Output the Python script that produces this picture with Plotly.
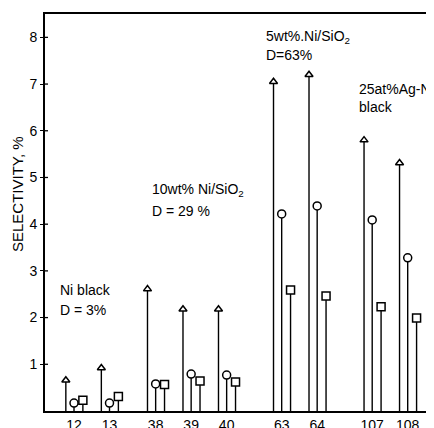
import plotly.graph_objects as go

# ---- data ----
group_labels = ["12", "13", "38", "39", "40", "63", "64", "107", "108"]
group_x = [0, 1, 2.3, 3.3, 4.3, 5.85, 6.85, 8.4, 9.4]
triangle_vals = [0.66, 0.92, 2.61, 2.18, 2.18, 7.05, 7.2, 5.8, 5.31]
circle_vals = [0.17, 0.17, 0.58, 0.79, 0.77, 4.22, 4.39, 4.09, 3.28]
square_vals = [0.23, 0.31, 0.57, 0.64, 0.62, 2.59, 2.46, 2.23, 1.99]
y_ticks = [1, 2, 3, 4, 5, 6, 7, 8]

FONT = "Liberation Sans, Arial, sans-serif"
INK = "black"

# the page body has an 8px default margin, so the figure starts at (8, 8)
OFF = 8
W, H = 434 - OFF, 428 - OFF
L, R, T, B = 45 - OFF, 0, 14 - OFF, 17
PW, PH = W - L - R, H - T - B

series = [
    (triangle_vals, -0.23, "triangle-up", 7),
    (circle_vals, 0.0, "circle", 8),
    (square_vals, 0.25, "square", 8),
]

fig = go.Figure()
for vals, off, sym, size in series:
    xs, ys = [], []
    for gx, v in zip(group_x, vals):
        xs += [gx + off, gx + off, None]
        ys += [0, v, None]
    fig.add_trace(go.Scatter(x=xs, y=ys, mode="lines",
                             line=dict(color=INK, width=1.4),
                             hoverinfo="skip", showlegend=False))
    fig.add_trace(go.Scatter(x=[gx + off for gx in group_x], y=vals, mode="markers",
                             marker=dict(symbol=sym, size=size, color="white",
                                         line=dict(color=INK, width=1.5)),
                             showlegend=False))

xmin = -29 / 35.5
xmax = xmin + PW / 35.5
fig.update_layout(
    width=W, height=H,
    margin=dict(l=L, r=R, t=T, b=B, pad=0, autoexpand=False),
    paper_bgcolor="white", plot_bgcolor="white",
    font=dict(family=FONT, color=INK, size=14),
    xaxis=dict(range=[xmin, xmax], tickmode="array", tickvals=group_x,
               ticktext=group_labels, showline=True, mirror=True,
               linecolor=INK, linewidth=2, ticks="",
               showgrid=False, automargin=False,
               zeroline=False, tickfont=dict(size=14)),
    yaxis=dict(range=[0, 8.5], tickmode="array", tickvals=y_ticks,
               ticks="outside", ticklen=3, tickwidth=1.3, tickcolor=INK,
               showline=True, linecolor=INK, linewidth=2, showgrid=False,
               automargin=False, zeroline=False, tickfont=dict(size=14)),
)

# inner half of the cross-shaped y ticks
for t in y_ticks:
    fig.add_shape(type="line", xref="paper", yref="y", x0=0, x1=3 / PW, y0=t, y1=t,
                  line=dict(color=INK, width=1.3))


def px(x):
    return (x - OFF - L) / PW


def py(y):
    return (H + OFF - B - y) / PH


notes = [
    ("Ni black", 58, 290),
    ("D = 3%", 58, 310),
    ("10wt% Ni/SiO<sub>2</sub>", 150, 190),
    ("D = 29 %", 150, 211),
    ("5wt%.Ni/SiO<sub>2</sub>", 264, 37),
    ("D=63%", 264, 55),
    ("25at%Ag-Ni", 357, 89),
    ("black", 357, 107),
]
for text, x, y in notes:
    fig.add_annotation(text=text, xref="paper", yref="paper", x=px(x), y=py(y),
                       xanchor="left", yanchor="middle", showarrow=False,
                       font=dict(size=14, family=FONT, color=INK))

fig.add_annotation(text="SELECTIVITY, %", xref="paper", yref="paper",
                   x=px(17), y=py(194), xanchor="center", yanchor="middle",
                   textangle=-90, showarrow=False,
                   font=dict(size=15, family=FONT, color=INK))

fig.write_html("out.html")
